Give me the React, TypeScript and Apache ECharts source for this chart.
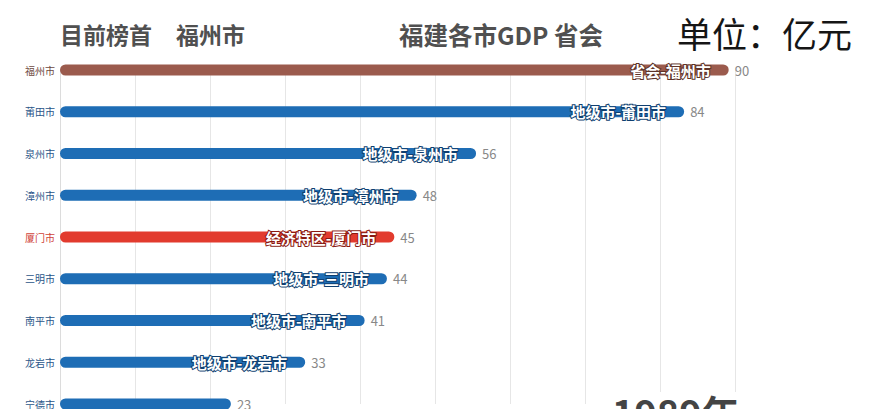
import React, { useEffect, useRef } from "react";
import * as echarts from "echarts";

const cities = ["福州市", "莆田市", "泉州市", "漳州市", "厦门市", "三明市", "南平市", "龙岩市", "宁德市"];
const gdp = [90, 84, 56, 48, 45, 44, 41, 33, 23];
const cityTypes = ["省会", "地级市", "地级市", "地级市", "经济特区", "地级市", "地级市", "地级市", "地级市"];
const titleLeader = "目前榜首";
const leaderName = "福州市";
const mainTitle = "福建各市GDP 省会";
const unitText = "单位：亿元";
const yearText = "1989年";

const barColor: Record<string, string> = {
  省会: "#9b5b4d",
  地级市: "#1e6db5",
  经济特区: "#e23b2e",
};
const labelColor: Record<string, string> = {
  省会: "#6e4a42",
  地级市: "#2b5689",
  经济特区: "#d0443a",
};
const strokeColor: Record<string, string> = {
  省会: "#5e3328",
  地级市: "#0f3f70",
  经济特区: "#8a1a12",
};

const FONT = "'Noto Sans CJK SC', 'Noto Sans', sans-serif";

export default function App() {
  const ref = useRef<HTMLDivElement>(null);
  useEffect(() => {
    if (!ref.current) return;
    const chart = echarts.init(ref.current, null, { renderer: "svg" });
    const option: any = {
      animation: false,
      backgroundColor: "#ffffff",
      grid: { left: 60, right: 139.6, top: 70, bottom: 4, containLabel: false },
      xAxis: {
        type: "value",
        min: 0,
        max: 90.9,
        interval: 10.1,
        axisLabel: { show: false },
        axisLine: { show: false },
        axisTick: { show: false },
        splitLine: { lineStyle: { color: "#e6e6e6", width: 1 } },
      },
      yAxis: {
        type: "category",
        data: cities,
        inverse: true,
        boundaryGap: false,
        axisLine: { lineStyle: { color: "#dcdcdc" } },
        axisTick: { show: false },
        splitLine: { show: false },
        axisLabel: {
          fontSize: 10,
          margin: 5,
          fontFamily: FONT,
          color: (v: string) => labelColor[cityTypes[cities.indexOf(v)]] || "#555",
        },
      },
      series: [
        {
          type: "bar",
          barWidth: 11,
          barGap: "-100%",
          clip: false,
          data: gdp.map((v, i) => ({
            value: v,
            itemStyle: { color: barColor[cityTypes[i]], borderRadius: 5.5 },
            label: {
              show: v >= 30,
              position: "insideRight",
              distance: 18,
              formatter: () => cityTypes[i] + "-" + cities[i],
              color: "#ffffff",
              fontSize: 15,
              fontWeight: "bold",
              fontFamily: FONT,
              textBorderColor: strokeColor[cityTypes[i]],
              textBorderWidth: 2,
            },
          })),
        },
        {
          type: "bar",
          barWidth: 11,
          barGap: "-100%",
          clip: false,
          itemStyle: { color: "rgba(0,0,0,0)" },
          label: {
            show: true,
            position: "right",
            distance: 6,
            color: "#888888",
            fontSize: 13,
            fontFamily: FONT,
            formatter: (p: any) => String(p.value),
          },
          data: gdp,
        },
      ],
      graphic: [
        {
          type: "text",
          x: 60,
          y: 34,
          style: { text: titleLeader, fontSize: 23, fontWeight: "bold", fontFamily: FONT, fill: "#505050", align: "left", verticalAlign: "middle" },
        },
        {
          type: "text",
          x: 176,
          y: 34,
          style: { text: leaderName, fontSize: 23, fontWeight: "bold", fontFamily: FONT, fill: "#505050", align: "left", verticalAlign: "middle" },
        },
        {
          type: "text",
          x: 399,
          y: 34,
          style: { text: mainTitle, fontSize: 24.5, fontWeight: "bold", fontFamily: FONT, fill: "#505050", align: "left", verticalAlign: "middle" },
        },
        {
          type: "text",
          x: 677,
          y: 32,
          style: { text: unitText, fontSize: 35, fontWeight: "normal", fontFamily: FONT, fill: "#151515", align: "left", verticalAlign: "middle" },
        },
        {
          type: "rect",
          z: 100,
          shape: { x: 600, y: 392, width: 150, height: 20 },
          style: { fill: "#ffffff" },
        },
        {
          type: "text",
          z: 101,
          x: 612,
          y: 392,
          style: { text: yearText, fontSize: 38, fontWeight: "bold", fontFamily: FONT, fill: "#444444", align: "left", verticalAlign: "top" },
        },
      ],
    };
    chart.setOption(option);
    return () => chart.dispose();
  }, []);
  return (
    <div
      ref={ref}
      style={{ position: "fixed", left: 0, top: 0, width: 875, height: 409, background: "#fff" }}
    />
  );
}
